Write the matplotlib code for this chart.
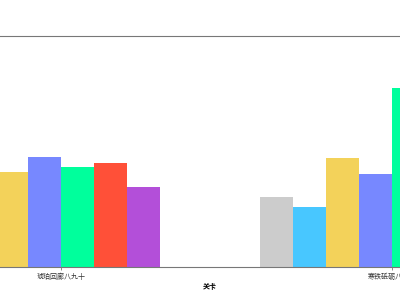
import numpy as np
import matplotlib
matplotlib.use('Agg')
import matplotlib.pyplot as plt

plt.rcParams['font.family'] = ['Noto Sans CJK SC', 'DejaVu Sans']

# categories on the x axis
levels = ['琥珀回廊八九十', '寒铁砥砺八九十']

# one list per series (y axis 0..100)
series_names = ['系列1', '系列2', '系列3', '系列4', '系列5', '系列6', '系列7', '系列8']
s1 = [28.0, 30.3]
s2 = [32.0, 26.0]
s3 = [41.1, 47.2]
s4 = [47.6, 40.3]
s5 = [43.3, 77.6]
s6 = [45.0, 50.0]
s7 = [34.8, 38.0]
s8 = [0.0, 30.0]
series = [s1, s2, s3, s4, s5, s6, s7, s8]
colors = ['#cccccc', '#48c7ff', '#f3d25a', '#7788ff', '#00ff9c',
          '#ff5038', '#b34fd9', '#ff9f40']

fig = plt.figure(figsize=(4, 3), dpi=100)
ax = fig.add_axes([0, 0.11, 1, 0.77])

x = np.arange(len(levels))
width = 0.1
n = len(series)
for i, (vals, name, col) in enumerate(zip(series, series_names, colors)):
    offset = (i - (n - 1) / 2) * width
    ax.bar(x + offset, vals, width, color=col, label=name, linewidth=0)

ax.set_xlim(-0.184, 1.024)
ax.set_ylim(0, 100)
ax.set_xticks(x)
ax.set_xticklabels(levels, fontsize=5, color='#333333')
ax.set_yticks([])
ax.tick_params(axis='x', length=2.5, width=0.6, color='#777777', pad=2)
for side in ['left', 'right']:
    ax.spines[side].set_visible(False)
for side in ['top', 'bottom']:
    ax.spines[side].set_color('#777777')
    ax.spines[side].set_linewidth(0.8)

ax.set_xlabel('关卡', fontsize=5, fontweight='bold', labelpad=3)
ax.xaxis.set_label_coords(0.525, -0.07)

fig.savefig('out.png', dpi=100)
